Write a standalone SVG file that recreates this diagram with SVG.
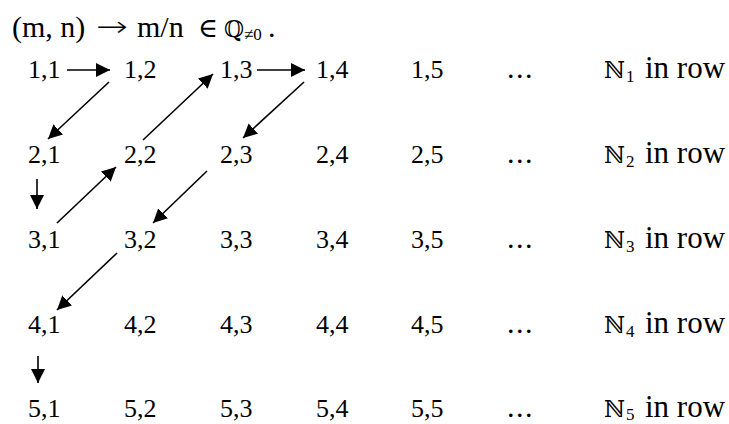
<svg xmlns="http://www.w3.org/2000/svg" width="729" height="424" viewBox="0 0 729 424">
<style>
text{font-family:"Liberation Serif","DejaVu Serif",serif;font-size:26px;fill:#000}
.t{font-size:30px}
.lb{font-size:31px}
.bb{font-family:"DejaVu Serif",serif;font-size:23px}
.sub{font-family:"Liberation Serif","DejaVu Serif",serif;font-size:17px}
.dots{font-size:30px;letter-spacing:1.5px}
.c line{stroke:#000;stroke-width:1.6;marker-end:url(#ah)}
</style>
<defs>
<marker id="ah" markerUnits="userSpaceOnUse" markerWidth="15" markerHeight="15" refX="14" refY="7" orient="auto" viewBox="0 0 15 14">
<path d="M0,0 L14,7 L0,14 z" fill="#000"/>
</marker>
</defs>
<rect width="729" height="424" fill="#fff"/>
<g id="title">
<text class="t" x="12" y="37">(m, n)<tspan x="96" y="36" font-family="DejaVu Sans" font-weight="200" font-size="28" textLength="32" lengthAdjust="spacingAndGlyphs">→</tspan><tspan x="137" y="37">m/n</tspan><tspan x="198" y="37" font-family="DejaVu Serif" font-size="27">∈</tspan><tspan class="bb" x="224" y="37" font-size="25">ℚ</tspan><tspan class="sub" x="244" y="40" font-size="18">≠0</tspan><tspan x="268" y="37">.</tspan></text>
</g>
<g id="r1">
<text x="28" y="78">1,1</text><text x="124" y="78">1,2</text><text x="220" y="78">1,3</text><text x="316" y="78">1,4</text><text x="411" y="78">1,5</text><text class="dots" x="507" y="78">...</text>
<text class="lb" x="604" y="78"><tspan class="bb">ℕ</tspan><tspan class="sub" x="626" y="82">1</tspan><tspan x="645" y="78">in row</tspan></text></g>
<g id="r2">
<text x="28" y="163">2,1</text><text x="124" y="163">2,2</text><text x="220" y="163">2,3</text><text x="316" y="163">2,4</text><text x="411" y="163">2,5</text><text class="dots" x="507" y="163">...</text>
<text class="lb" x="604" y="163"><tspan class="bb">ℕ</tspan><tspan class="sub" x="626" y="167">2</tspan><tspan x="645" y="163">in row</tspan></text></g>
<g id="r3">
<text x="28" y="248">3,1</text><text x="124" y="248">3,2</text><text x="220" y="248">3,3</text><text x="316" y="248">3,4</text><text x="411" y="248">3,5</text><text class="dots" x="507" y="248">...</text>
<text class="lb" x="604" y="248"><tspan class="bb">ℕ</tspan><tspan class="sub" x="626" y="252">3</tspan><tspan x="645" y="248">in row</tspan></text></g>
<g id="r4">
<text x="28" y="333">4,1</text><text x="124" y="333">4,2</text><text x="220" y="333">4,3</text><text x="316" y="333">4,4</text><text x="411" y="333">4,5</text><text class="dots" x="507" y="333">...</text>
<text class="lb" x="604" y="333"><tspan class="bb">ℕ</tspan><tspan class="sub" x="626" y="337">4</tspan><tspan x="645" y="333">in row</tspan></text></g>
<g id="r5">
<text x="28" y="417">5,1</text><text x="124" y="417">5,2</text><text x="220" y="417">5,3</text><text x="316" y="417">5,4</text><text x="411" y="417">5,5</text><text class="dots" x="507" y="417">...</text>
<text class="lb" x="604" y="417"><tspan class="bb">ℕ</tspan><tspan class="sub" x="626" y="420">5</tspan><tspan x="645" y="417">in row</tspan></text></g>
<g id="connectors" class="c">
<line x1="67" y1="70" x2="110" y2="70"/>
<line x1="109" y1="82" x2="48" y2="139"/>
<line x1="37" y1="179" x2="37" y2="209"/>
<line x1="57" y1="223" x2="116" y2="167"/>
<line x1="143" y1="140" x2="213" y2="74"/>
<line x1="257" y1="70" x2="305" y2="70"/>
<line x1="304" y1="82" x2="243" y2="138"/>
<line x1="207" y1="171" x2="153" y2="223"/>
<line x1="117" y1="253" x2="57" y2="310"/>
<line x1="38" y1="356" x2="38" y2="383"/>
</g>
</svg>
